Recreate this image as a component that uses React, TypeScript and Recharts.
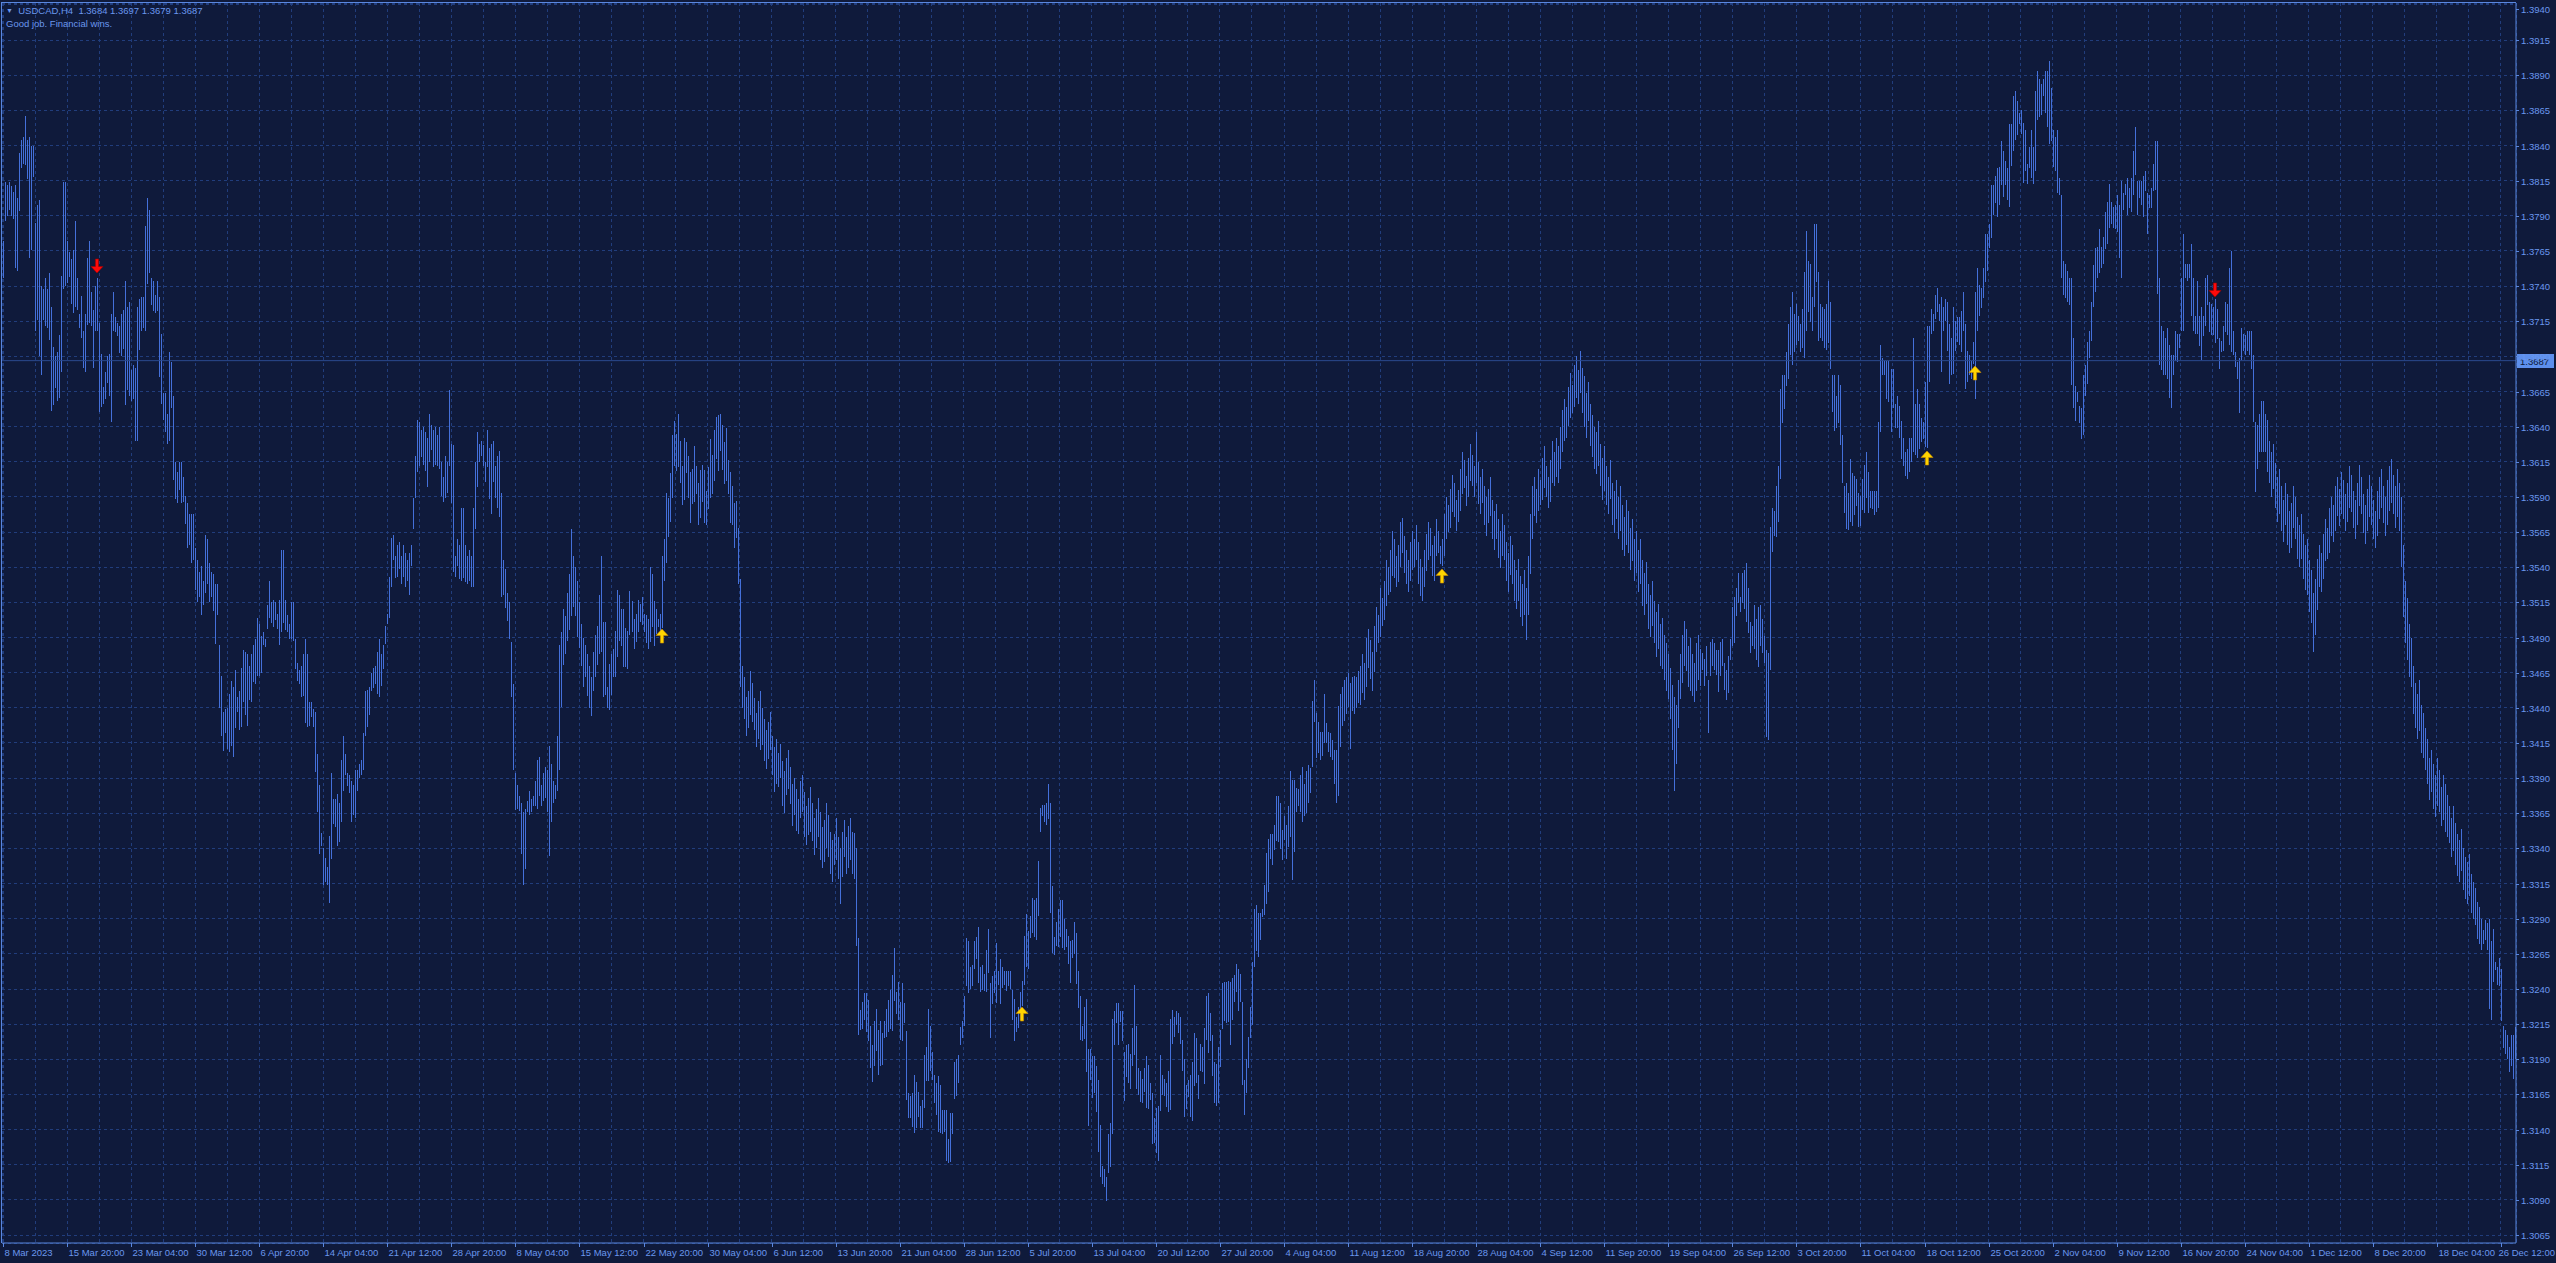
import React from "react";
import {
  Bar,
  CartesianGrid,
  ComposedChart,
  ReferenceDot,
  ReferenceLine,
  XAxis,
  YAxis,
} from "recharts";

// USDCAD H4 bars, [high, low] in pips above 1.3000
const MAR_APR: [number, number][] = [
  [772, 746], [814, 786], [812, 790], [814, 794], [811, 790], [807, 788], [812, 753], [803, 751], [835, 794], [844, 824],
  [846, 827], [861, 826], [844, 816], [846, 760], [840, 766], [840, 818], [785, 708], [798, 716], [801, 690], [740, 677],
  [738, 716], [746, 712], [738, 710], [749, 701], [725, 651], [697, 656], [690, 667], [693, 658], [705, 660], [747, 679],
  [814, 738], [814, 740], [772, 742], [764, 746], [759, 727], [766, 721], [786, 725], [746, 723], [720, 710], [733, 703],
  [708, 682], [720, 679], [760, 712], [772, 714], [736, 712], [723, 682], [740, 708], [746, 708], [714, 651], [692, 654],
  [668, 656], [679, 660], [690, 671], [692, 662], [720, 643], [736, 708], [718, 707], [714, 705], [712, 693], [720, 690],
  [723, 695], [744, 656], [725, 666], [729, 662], [680, 658], [684, 660], [682, 630], [725, 630], [731, 695], [732, 708],
  [732, 710], [783, 708], [803, 742], [794, 749], [746, 727], [744, 723], [734, 721], [744, 723], [732, 675], [706, 656],
  [664, 645], [664, 636], [649, 628], [693, 630], [686, 653], [662, 602], [615, 589], [608, 586], [615, 595], [615, 586],
  [604, 586], [591, 571], [586, 554], [578, 556], [578, 543], [578, 545], [554, 524], [545, 515], [537, 519], [541, 506],
  [530, 513], [563, 522], [560, 528], [543, 515], [537, 519], [535, 509], [528, 485], [528, 506], [485, 440], [463, 420],
  [437, 409], [439, 422], [440, 411], [450, 409], [459, 413], [455, 405], [467, 426], [448, 437], [452, 424], [468, 426],
  [481, 444], [480, 435], [478, 427], [470, 446], [478, 444], [485, 459], [489, 457], [504, 463], [500, 463], [491, 465],
  [494, 485], [489, 483], [513, 496], [530, 504], [515, 500], [517, 498], [515, 502], [507, 496], [517, 485], [552, 494],
  [552, 500], [517, 496], [506, 494], [500, 489], [515, 489], [515, 487], [489, 468], [472, 459], [467, 457], [470, 448],
  [478, 448], [489, 429], [478, 426], [444, 427], [444, 433], [439, 426], [437, 394], [407, 366], [385, 336], [351, 342],
  [340, 314], [333, 316], [327, 314], [349, 301], [394, 333], [375, 357], [375, 355], [379, 342], [372, 344], [403, 359],
  [420, 381], [407, 392], [394, 385], [392, 379], [388, 359], [385, 364], [396, 362], [396, 381], [400, 390], [403, 392],
  [422, 396], [452, 420], [453, 427], [455, 435], [465, 452], [468, 454], [470, 457], [480, 450], [489, 448], [478, 455],
  [485, 468], [498, 485], [507, 500], [533, 504], [561, 526], [563, 545], [548, 532], [556, 533], [558, 539], [548, 528],
  [556, 533], [550, 526], [545, 530], [550, 520], [556, 541], [589, 567], [619, 589], [645, 608], [643, 612], [638, 619],
  [640, 613], [636, 608], [632, 597], [649, 615], [641, 623], [638, 612], [640, 613], [634, 612], [640, 610], [615, 591],
  [604, 586], [619, 589], [615, 593], [666, 612], [628, 586], [627, 537], [548, 533], [560, 541], [556, 532], [582, 530],
  [582, 532], [556, 530], [548, 528], [552, 530], [548, 526], [582, 526], [615, 567], [636, 597], [628, 615], [630, 619],
  [627, 612], [615, 601], [638, 612], [625, 589], [628, 578], [630, 601], [612, 589], [619, 582], [623, 576], [593, 519],
  [545, 520], [539, 511], [522, 502], [515, 489], [487, 448], [457, 396], [394, 368], [385, 368], [377, 366], [372, 336],
  [366, 314], [368, 325], [374, 366], [381, 364], [375, 366], [377, 370], [388, 370], [403, 368], [405, 377], [385, 370],
  [394, 374], [398, 376], [396, 366], [413, 335], [400, 359], [388, 372], [385, 375], [420, 381], [485, 396], [494, 441],
];

const MAY_JUN: [number, number][] = [
  [510, 470], [505, 478], [522, 488], [535, 495], [567, 505], [548, 512], [540, 505], [530, 490], [515, 482], [500, 470],
  [490, 455], [485, 462], [478, 448], [470, 440], [462, 434], [480, 452], [492, 462], [498, 470], [520, 478], [548, 480],
  [501, 448], [501, 449], [455, 440], [471, 438], [478, 449], [482, 462], [495, 462], [524, 476], [520, 487], [510, 484],
  [510, 469], [497, 469], [495, 468], [523, 492], [516, 494], [503, 482], [507, 487], [517, 494], [514, 501], [519, 499],
  [507, 494], [506, 486], [503, 482], [540, 487], [535, 497], [516, 484], [510, 492], [503, 497], [507, 491], [548, 497],
  [560, 530], [593, 543], [589, 561], [607, 572], [634, 589], [644, 612], [635, 609], [649, 611], [630, 600], [612, 584],
  [632, 588], [629, 607], [619, 589], [608, 572], [610, 585], [626, 586], [612, 592], [600, 570], [609, 575], [613, 587],
  [609, 571], [594, 570], [611, 581], [631, 589], [620, 592], [638, 602], [647, 617], [648, 608], [649, 623], [641, 609],
  [629, 599], [639, 601], [616, 592], [608, 572], [598, 570], [586, 554], [587, 561], [568, 528], [532, 455], [470, 440],
  [462, 432], [448, 420], [452, 426], [466, 435], [458, 430], [447, 424], [436, 412], [445, 418], [452, 410], [440, 414],
  [432, 402], [424, 396], [430, 404], [437, 410], [420, 392], [412, 380], [418, 386], [408, 384], [414, 390], [402, 370],
  [395, 365], [404, 378], [410, 382], [398, 372], [386, 356], [390, 364], [382, 352], [375, 350], [388, 362], [392, 366],
  [380, 348], [370, 342], [376, 350], [384, 352], [372, 345], [362, 336], [368, 340], [376, 348], [366, 332], [355, 326],
  [360, 330], [372, 340], [364, 334], [352, 322], [346, 316], [350, 328], [362, 332], [348, 318], [340, 300], [352, 320],
  [360, 334], [348, 322], [356, 326], [362, 332],
];

const JUN_AUG: [number, number][] = [
  [352, 322], [351, 318], [340, 270], [276, 207], [225, 211], [231, 212], [237, 218], [237, 209], [232, 203], [214, 184],
  [200, 174], [217, 185], [226, 196], [211, 179], [217, 185], [209, 186], [217, 205], [226, 206], [232, 209], [239, 211],
  [250, 210], [269, 231], [238, 222], [245, 218], [231, 204], [244, 203], [230, 216], [210, 161], [166, 148], [164, 148],
  [166, 142], [179, 138], [174, 141], [167, 149], [157, 141], [161, 141], [193, 155], [199, 175], [226, 175], [214, 182],
  [195, 175], [179, 159], [173, 150], [178, 138], [172, 138], [154, 137], [154, 138], [154, 118], [133, 116], [152, 117],
  [152, 137], [188, 162], [190, 164], [193, 173], [213, 200], [217, 205], [235, 214], [276, 242], [274, 237], [256, 240],
  [257, 242], [274, 254], [277, 261], [284, 244], [256, 238], [257, 239], [251, 239], [268, 238], [283, 252], [244, 205],
  [249, 229], [253, 237], [273, 230], [253, 243], [261, 229], [256, 241], [253, 243], [253, 239], [253, 242], [253, 240],
  [239, 218], [233, 203], [220, 209], [227, 212], [238, 218], [246, 228], [278, 243], [293, 255], [281, 254], [292, 276],
  [305, 280], [303, 277], [305, 275], [331, 292], [369, 352], [371, 363], [371, 359], [372, 356], [386, 361], [372, 294],
  [313, 265], [277, 264], [288, 271], [297, 270], [303, 277], [303, 269], [290, 268], [283, 270], [278, 258], [274, 244],
  [275, 262], [288, 265], [280, 244], [253, 227], [235, 204], [214, 203], [227, 204], [233, 181], [197, 142], [197, 175],
  [192, 162], [192, 166], [185, 152], [175, 124], [143, 106], [114, 101], [112, 99], [106, 89], [137, 109], [145, 114],
  [219, 137], [224, 200], [230, 216], [230, 200], [224, 216], [224, 203], [195, 160], [200, 177], [201, 173], [194, 169],
  [212, 185], [243, 193], [214, 169], [184, 165], [182, 160], [176, 159], [184, 167], [192, 155], [186, 155], [173, 161],
  [166, 130], [148, 130], [155, 123], [157, 118], [193, 153], [179, 165], [176, 164], [173, 156], [182, 153], [219, 154],
  [225, 201], [220, 206], [224, 214], [223, 209], [220, 201], [204, 182], [190, 149], [172, 155], [175, 163], [179, 149],
  [188, 146], [209, 171], [205, 173], [179, 162], [201, 182], [199, 181], [212, 172], [235, 204], [237, 194], [223, 203],
  [207, 178], [188, 159], [187, 157], [199, 159], [211, 185], [244, 211], [245, 217], [245, 216], [246, 217], [245, 200],
  [248, 218], [250, 231], [258, 238], [254, 224], [251, 231], [231, 172], [175, 150], [190, 166], [206, 184], [227, 205],
  [259, 214], [297, 256], [300, 267], [294, 263], [294, 275], [297, 291], [314, 293], [337, 301], [347, 309], [350, 332],
  [350, 328], [357, 339], [377, 345], [377, 344], [372, 339], [353, 332], [363, 346], [357, 333], [370, 341], [395, 348],
  [389, 318], [389, 338], [383, 366], [382, 370], [392, 366], [398, 359], [386, 363], [395, 365], [399, 372], [397, 379],
  [445, 398], [460, 430], [436, 404], [430, 408], [423, 403], [423, 406], [450, 415], [429, 415], [423, 409], [422, 405],
  [417, 403], [410, 386], [410, 372], [441, 377], [450, 412], [455, 427], [460, 431], [462, 436], [465, 441], [458, 411],
  [462, 438], [463, 436], [462, 440], [466, 443],
];

const AUG_SEP: [number, number][] = [
  [470, 442], [478, 450], [472, 446], [490, 455], [496, 468], [488, 460], [480, 452], [498, 465], [512, 480], [506, 486],
  [525, 490], [518, 498], [530, 502], [545, 512], [540, 520], [552, 522], [566, 534], [560, 532], [548, 526], [556, 530],
  [572, 540], [575, 550], [562, 536], [552, 528], [545, 522], [558, 530], [566, 538], [560, 540], [570, 545], [558, 528],
  [546, 520], [540, 516], [552, 526], [564, 538], [572, 545], [568, 548], [556, 534], [562, 530], [574, 548], [566, 550],
  [555, 542], [560, 541], [578, 548], [590, 560], [584, 565], [596, 568], [606, 580], [600, 576], [588, 566], [595, 572],
  [610, 580], [622, 592], [616, 596], [605, 584], [618, 590], [628, 602], [620, 598], [612, 590], [636, 600], [615, 585],
  [604, 578], [610, 586], [598, 570], [590, 562], [596, 572], [604, 576], [588, 560], [580, 552], [585, 560], [574, 546],
  [566, 540], [578, 548], [570, 545], [558, 530], [550, 522], [562, 534], [556, 528], [545, 516], [538, 510], [546, 516],
  [534, 505], [528, 498], [538, 506], [525, 488], [548, 506], [578, 535], [598, 560], [604, 576], [596, 572], [610, 580],
  [602, 584], [618, 588], [626, 596], [612, 590], [604, 582], [616, 586], [630, 600], [622, 598], [632, 604], [626, 600],
  [640, 610], [652, 622], [660, 630], [654, 632], [668, 640], [678, 646], [670, 650], [684, 654], [690, 660], [680, 656],
  [694, 664], [682, 650], [676, 640], [664, 632], [672, 644], [656, 626], [648, 618], [640, 610], [636, 606], [644, 612],
  [628, 598], [618, 588], [626, 594], [612, 584], [604, 578], [616, 588], [600, 570], [594, 564], [602, 574], [590, 560],
  [598, 566], [584, 552], [576, 548], [588, 556], [580, 550], [568, 538], [574, 544], [560, 530], [566, 536], [552, 522],
  [560, 528], [545, 512], [536, 506], [544, 514], [528, 496], [520, 490], [530, 498], [516, 486], [508, 476], [514, 482],
  [500, 470], [504, 468], [492, 460], [486, 452], [478, 446], [468, 432], [456, 410], [448, 381], [442, 400], [460, 426],
  [478, 446], [492, 458], [502, 470], [496, 466], [484, 455], [490, 452], [478, 448], [472, 444], [486, 452], [492, 460],
  [482, 456],
];

const SEP_NOV: [number, number][] = [
  [479, 467], [475, 456], [484, 463], [460, 422], [487, 463], [489, 470], [486, 467], [481, 463], [481, 451], [487, 463],
  [489, 470], [472, 453], [467, 446], [477, 451], [489, 474], [512, 484], [519, 486], [525, 505], [536, 515], [519, 508],
  [536, 515], [538, 510], [543, 501], [525, 493], [501, 479], [498, 484], [513, 482], [503, 474], [512, 469], [513, 484],
  [503, 479], [491, 472], [481, 419], [479, 417], [569, 467], [582, 551], [580, 562], [598, 562], [612, 572], [667, 603],
  [677, 643], [677, 653], [693, 669], [713, 674], [725, 691], [736, 684], [720, 693], [727, 698], [719, 701], [713, 693],
  [724, 696], [750, 689], [779, 708], [758, 722], [756, 715], [732, 708], [784, 725], [784, 743], [750, 701], [727, 703],
  [725, 701], [724, 696], [727, 694], [744, 700], [729, 681], [677, 651], [677, 637], [662, 639], [677, 643], [670, 627],
  [634, 600], [598, 579], [600, 567], [593, 567], [617, 572], [607, 569], [605, 577], [603, 584], [593, 569], [591, 570],
  [603, 581], [613, 579], [622, 589], [608, 579], [594, 582], [594, 581], [594, 577], [594, 579], [643, 582], [698, 636],
  [689, 677], [687, 677], [687, 660], [687, 658], [681, 636], [681, 653], [656, 639], [662, 639], [655, 632], [644, 617],
  [632, 612], [622, 605], [624, 603], [632, 608], [632, 615], [703, 622], [656, 620], [667, 618], [656, 624], [646, 629],
  [643, 631], [672, 626], [712, 625], [712, 672], [724, 706], [720, 708], [734, 717], [739, 722], [727, 715], [732, 679],
  [725, 708], [731, 715], [729, 694], [713, 670], [703, 677], [725, 677], [715, 694], [718, 700], [718, 698], [722, 693],
  [736, 708], [713, 667], [694, 672], [691, 677], [687, 674], [700, 684], [736, 660], [753, 708], [741, 719], [739, 725],
  [753, 732], [777, 743], [777, 751], [784, 767], [812, 774], [812, 791], [818, 799], [824, 789], [825, 798], [843, 812],
  [836, 803], [829, 812], [824, 801], [855, 796], [855, 825], [875, 836], [879, 844], [872, 848], [863, 855], [865, 848],
  [856, 813], [851, 822], [827, 813], [839, 824], [851, 817], [839, 813], [879, 822], [893, 858], [887, 860], [884, 862],
  [887, 875], [893, 863], [893, 853], [900, 841], [881, 843], [851, 825], [846, 822], [851, 806], [817, 805], [805, 746],
  [758, 734], [756, 732], [751, 729], [746, 727], [746, 670], [703, 653], [669, 644], [665, 658], [655, 643], [653, 631],
  [677, 634], [684, 662], [700, 670], [708, 689], [729, 701], [755, 725], [767, 736], [768, 746], [781, 750], [768, 753],
  [775, 756], [793, 767], [800, 770], [813, 782], [800, 784], [796, 781], [798, 781], [805, 779], [798, 760], [815, 746],
  [806, 794], [813, 805], [817, 791], [810, 796], [817, 793], [836, 805], [853, 819], [815, 791], [815, 803], [815, 798],
  [818, 789], [822, 808], [806, 777], [805, 796], [810, 796], [827, 808], [843, 808], [843, 734], [746, 684], [712, 681],
  [708, 677], [703, 677], [710, 674], [698, 660], [691, 653], [691, 677], [708, 687], [706, 686], [706, 696], [746, 708],
  [777, 708], [756, 746], [756, 744], [756, 746], [770, 719], [746, 708], [719, 706], [744, 706], [719, 698], [725, 687],
  [719, 705], [746, 712], [748, 727], [729, 708], [727, 705], [725, 705], [731, 700], [724, 703], [703, 681], [701, 693],
  [712, 694], [729, 708], [727, 705], [753, 698], [765, 693], [708, 691], [693, 682], [686, 674], [689, 650], [710, 687],
  [706, 694], [705, 691], [708, 694], [708, 691], [708, 681], [691, 643], [643, 593], [641, 610], [649, 622], [658, 622],
  [658, 622], [649, 622],
];

const NOV_DEC: [number, number][] = [
  [645, 608], [630, 600], [622, 590], [628, 596], [614, 582], [604, 572], [610, 578], [598, 566], [588, 558], [600, 570],
  [592, 556], [580, 550], [586, 554], [598, 568], [590, 560], [576, 546], [570, 540], [578, 546], [564, 532], [556, 524],
  [560, 520], [545, 508], [538, 500], [522, 480], [532, 492], [546, 510], [556, 526], [550, 522], [564, 532], [574, 544],
  [568, 546], [582, 550], [590, 562], [584, 558], [598, 566], [604, 576], [596, 570], [608, 578], [602, 574], [592, 566],
  [600, 572], [612, 582], [606, 580], [594, 568], [588, 560], [600, 570], [613, 584], [604, 578], [592, 564], [584, 556],
  [596, 566], [606, 576], [598, 570], [588, 560], [580, 554], [594, 562], [604, 574], [610, 582], [598, 572], [590, 562],
  [602, 570], [612, 580], [617, 586], [606, 578], [598, 568], [610, 576], [600, 566], [590, 540], [556, 505], [530, 486],
  [518, 474], [500, 462], [490, 455], [470, 436], [458, 426], [450, 418], [460, 424], [442, 408], [436, 404], [426, 396],
  [418, 386], [404, 374], [410, 380], [400, 368], [392, 362], [404, 370], [396, 366], [384, 356], [392, 360], [386, 352],
  [378, 348], [370, 344], [362, 334], [370, 338], [358, 328], [350, 320], [346, 316], [354, 324], [340, 310], [334, 304],
  [330, 300], [336, 306], [322, 294], [316, 290], [312, 286], [302, 276], [298, 272], [290, 268],
];

const DEC_END: [number, number][] = [
  [282, 272], [289, 275], [287, 268], [290, 226], [274, 218], [283, 245], [259, 253], [256, 243], [262, 242], [254, 217],
  [214, 198], [211, 194], [207, 190], [199, 181], [207, 185], [207, 176], [213, 190],
];

const X_LABELS = [
  "8 Mar 2023", "15 Mar 20:00", "23 Mar 04:00", "30 Mar 12:00", "6 Apr 20:00", "14 Apr 04:00", "21 Apr 12:00",
  "28 Apr 20:00", "8 May 04:00", "15 May 12:00", "22 May 20:00", "30 May 04:00", "6 Jun 12:00", "13 Jun 20:00",
  "21 Jun 04:00", "28 Jun 12:00", "5 Jul 20:00", "13 Jul 04:00", "20 Jul 12:00", "27 Jul 20:00", "4 Aug 04:00",
  "11 Aug 12:00", "18 Aug 20:00", "28 Aug 04:00", "4 Sep 12:00", "11 Sep 20:00", "19 Sep 04:00", "26 Sep 12:00",
  "3 Oct 20:00", "11 Oct 04:00", "18 Oct 12:00", "25 Oct 20:00", "2 Nov 04:00", "9 Nov 12:00", "16 Nov 20:00",
  "24 Nov 04:00", "1 Dec 12:00", "8 Dec 20:00", "18 Dec 04:00", "26 Dec 12:00",
];

const Y_TICKS = [
  1.3065, 1.309, 1.3115, 1.314, 1.3165, 1.319, 1.3215, 1.324, 1.3265, 1.329, 1.3315, 1.334,
  1.3365, 1.339, 1.3415, 1.344, 1.3465, 1.349, 1.3515, 1.354, 1.3565, 1.359, 1.3615, 1.364,
  1.3665, 1.369, 1.3715, 1.374, 1.3765, 1.379, 1.3815, 1.384, 1.3865, 1.389, 1.3915, 1.394,
];

// indicator arrows: bar index, price, direction
const SIGNAL_BARS = [47, 329, 509, 719, 961, 985, 1105];
const SIGNAL_PRICES = [1.3754, 1.3491, 1.3222, 1.3534, 1.3618, 1.3678, 1.3737];
const SIGNAL_UP = [false, true, true, true, true, true, false];

const QUOTE = { open: 1.3684, high: 1.3697, low: 1.3679, close: 1.3687 };

const W = 2556;
const H = 1263;
const BG = "#0f1a3b";
const GRID = "#213d7c";
const BAR = "#4470da";
const AXIS = "#5a87df";
const TXT = "#6a97ee";
const FONT = "'Liberation Sans', Arial, sans-serif";

const bars = [...MAR_APR, ...MAY_JUN, ...JUN_AUG, ...AUG_SEP, ...SEP_NOV, ...NOV_DEC, ...DEC_END].map(
  ([hi, lo], i) => ({ i, range: [1.3 + lo / 10000, 1.3 + hi / 10000] })
);
const xTicks = bars.filter((b) => b.i % 16 === 0).map((b) => b.i);

const HLBar = (p: any) => {
  const { x, y, width, height } = p;
  if (x == null || y == null) return <g />;
  const cx = Math.round(x + width / 2 - 0.5);
  const top = Math.round(Math.min(y, y + height));
  const h = Math.max(1, Math.round(Math.abs(height)));
  return <rect x={cx} y={top} width={1} height={h} fill={BAR} shapeRendering="crispEdges" />;
};

const XTick = (p: any) => {
  const i = p.payload.value as number;
  if (i % 32 !== 0) return <g />;
  const x = Math.round(p.x) + 0.5;
  const last = i / 32 === X_LABELS.length - 1;
  return (
    <g>
      <line x1={x} x2={x} y1={p.y} y2={p.y + 4} stroke={AXIS} />
      <text
        x={last ? W - 1 : x + 1}
        y={p.y + 13}
        textAnchor={last ? "end" : "start"}
        fill={TXT}
        fontSize={9.5}
        fontFamily={FONT}
      >
        {X_LABELS[i / 32]}
      </text>
    </g>
  );
};

const YTick = (p: any) => {
  const y = Math.round(p.y) + 0.5;
  return (
    <g>
      <line x1={p.x} x2={p.x + 3} y1={y} y2={y} stroke={AXIS} />
      <text x={p.x + 5} y={y + 3.5} fill={TXT} fontSize={9.5} fontFamily={FONT}>
        {Number(p.payload.value).toFixed(4)}
      </text>
    </g>
  );
};

const PriceTag = (p: any) => {
  const vb = p.viewBox;
  if (!vb) return null;
  const x = vb.x + vb.width + 1;
  const y = Math.round(vb.y);
  return (
    <g>
      <rect x={x} y={y - 7} width={37} height={14} fill="#5d8fec" />
      <text x={x + 3} y={y + 4} fill="#0d1836" fontSize={9.5} fontFamily={FONT}>
        {QUOTE.close.toFixed(4)}
      </text>
    </g>
  );
};

const Arrow = ({ cx, cy, up }: { cx: number; cy: number; up: boolean }) => {
  const s = up ? 1 : -1;
  const d = `M0,${-7 * s} L6,${-0.5 * s} L1.6,${-0.5 * s} L1.6,${7 * s} L-1.6,${7 * s} L-1.6,${-0.5 * s} L-6,${-0.5 * s} Z`;
  return (
    <path
      d={d}
      transform={`translate(${Math.round(cx)},${Math.round(cy)})`}
      fill={up ? "#ffd400" : "#ff0a0a"}
      stroke={up ? "#c98a00" : "#a00000"}
      strokeWidth={0.6}
    />
  );
};

export default function App() {
  return (
    <div
      style={{
        position: "absolute",
        left: 0,
        top: 0,
        width: W,
        height: H,
        background: BG,
        overflow: "hidden",
        fontFamily: FONT,
      }}
    >
      <ComposedChart
        width={W}
        height={H}
        data={bars}
        margin={{ top: 3, right: 0, bottom: 0, left: 2 }}
        barCategoryGap={0}
        barGap={0}
      >
        <CartesianGrid stroke={GRID} strokeDasharray="3 3" shapeRendering="crispEdges" />
        <XAxis
          dataKey="i"
          type="category"
          ticks={xTicks}
          interval={0}
          height={20}
          tickSize={0}
          tickMargin={0}
          tickLine={false}
          tick={<XTick />}
          axisLine={{ stroke: AXIS }}
        />
        <YAxis
          orientation="right"
          type="number"
          domain={[1.305931, 1.394142]}
          allowDataOverflow
          ticks={Y_TICKS}
          width={40}
          tickSize={0}
          tickMargin={0}
          tickLine={false}
          tick={<YTick />}
          axisLine={{ stroke: AXIS }}
        />
        <ReferenceLine y={QUOTE.close} stroke="#2b4a8e" label={<PriceTag />} />
        <Bar dataKey="range" barSize={1} shape={HLBar} isAnimationActive={false} />
        {SIGNAL_BARS.map((b, k) => (
          <ReferenceDot
            key={b}
            x={b}
            y={SIGNAL_PRICES[k]}
            r={6}
            shape={(p: any) => <Arrow cx={p.cx} cy={p.cy} up={SIGNAL_UP[k]} />}
          />
        ))}
      </ComposedChart>

      <div
        style={{
          position: "absolute",
          left: 1,
          top: 2,
          width: 2514,
          height: 1240,
          border: `1px solid ${AXIS}`,
          borderRight: "none",
          borderBottom: "none",
          pointerEvents: "none",
        }}
      />
      <div
        style={{
          position: "absolute",
          left: 6,
          top: 4,
          color: TXT,
          fontSize: 9.5,
          lineHeight: "13px",
          whiteSpace: "pre",
        }}
      >
        <div>
          <span style={{ fontSize: 7, verticalAlign: "1px" }}>▼</span>
          {`  USDCAD,H4  ${QUOTE.open.toFixed(4)} ${QUOTE.high.toFixed(4)} ${QUOTE.low.toFixed(4)} ${QUOTE.close.toFixed(4)}`}
        </div>
        <div>Good job. Financial wins.</div>
      </div>
    </div>
  );
}
